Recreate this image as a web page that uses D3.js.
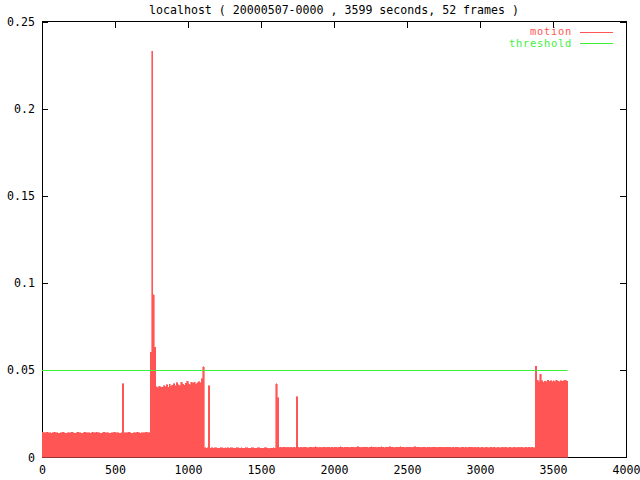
<!DOCTYPE html>
<html>
<head>
<meta charset="utf-8">
<script src="https://cdn.jsdelivr.net/npm/d3@7"></script>
<style>
  html, body { margin: 0; padding: 0; background: #ffffff; }
  svg { display: block; }
  text { font-family: "DejaVu Sans Mono", "Liberation Mono", monospace; font-size: 11.6px; }
</style>
</head>
<body>
<svg id="chart" width="640" height="480"></svg>
<script>
// ---- Data ----
const titleText = "localhost ( 20000507-0000 , 3599 seconds, 52 frames )";
const seriesNames = ["motion", "threshold"];
const binSeconds = 10;            // each value covers 10 seconds
const totalSeconds = 3599;
const thresholdValue = 0.05;
const xTickValues = [0, 500, 1000, 1500, 2000, 2500, 3000, 3500, 4000];
const xTickLabels = ["0", "500", "1000", "1500", "2000", "2500", "3000", "3500", "4000"];
const yTickValues = [0, 0.05, 0.1, 0.15, 0.2, 0.25];
const yTickLabels = ["0", "0.05", "0.1", "0.15", "0.2", "0.25"];

// motion level per 10-second bin, 0 .. 3600 s
const motionValues = [
  // 0 - 740 s
  .0142,.0140,.0139,.0141,.0138,.0140,.0137,.0139,.0141,.0138,
  .0139,.0137,.0140,.0138,.0141,.0139,.0136,.0138,.0140,.0139,
  .0141,.0138,.0137,.0139,.0142,.0138,.0140,.0137,.0139,.0141,
  .0138,.0140,.0139,.0137,.0141,.0138,.0139,.0142,.0138,.0140,
  .0137,.0139,.0141,.0138,.0140,.0139,.0137,.0140,.0138,.0141,
  .0139,.0138,.0140,.0137,.0139,.0420,.0138,.0140,.0139,.0141,
  .0138,.0137,.0139,.0140,.0138,.0141,.0139,.0137,.0140,.0138,
  .0139,.0141,.0138,.0140,
  // 740 - 1110 s
  .0600,.2330,.0930,.0630,
  .0402,.0398,.0405,.0401,.0399,.0410,.0403,.0415,.0400,.0418,.0405,.0412,
  .0420,.0408,.0425,.0415,.0410,.0430,.0418,.0412,.0422,.0435,
  .0420,.0416,.0428,.0422,.0430,.0418,.0425,.0432,.0426,.0450,
  .0517,
  // 1110 - 3380 s
  .0052,.0050,.0053,.0410,.0051,.0054,.0050,.0052,.0053,
  .0051,.0049,.0053,.0052,.0050,.0054,.0051,.0052,.0049,.0053,
  .0052,.0050,.0051,.0054,.0052,.0049,.0053,.0051,.0050,.0052,
  .0053,.0051,.0049,.0052,.0054,.0050,.0051,.0053,.0052,.0050,
  .0051,.0049,.0052,.0053,.0050,.0048,.0051,.0049,.0052,.0050,
  .0420,.0340,.0054,.0056,.0053,.0055,.0057,.0054,.0056,.0053,
  .0055,.0054,.0056,.0053,.0345,.0055,.0054,.0057,.0053,.0055,
  .0056,.0054,.0053,.0057,.0055,.0054,.0056,.0058,.0055,.0054,
  .0056,.0053,.0055,.0057,.0054,.0056,.0055,.0053,.0056,.0054,
  .0057,.0055,.0054,.0056,.0058,.0055,.0054,.0057,.0056,.0055,
  .0054,.0056,.0055,.0057,.0054,.0056,.0058,.0055,.0054,.0056,
  .0055,.0057,.0056,.0054,.0055,.0058,.0056,.0055,.0057,.0054,
  .0056,.0055,.0058,.0056,.0054,.0057,.0055,.0056,.0058,.0055,
  .0057,.0054,.0056,.0055,.0057,.0059,.0056,.0055,.0054,.0056,
  .0055,.0057,.0056,.0054,.0056,.0058,.0055,.0057,.0056,.0054,
  .0056,.0055,.0057,.0054,.0056,.0055,.0053,.0056,.0055,.0057,
  .0054,.0056,.0055,.0057,.0056,.0054,.0055,.0057,.0056,.0055,
  .0053,.0055,.0054,.0056,.0055,.0053,.0054,.0056,.0055,.0054,
  .0056,.0054,.0055,.0057,.0055,.0054,.0056,.0053,.0055,.0054,
  .0053,.0055,.0054,.0052,.0055,.0053,.0054,.0056,.0053,.0055,
  .0054,.0052,.0055,.0053,.0054,.0056,.0053,.0055,.0054,.0052,
  .0055,.0053,.0054,.0056,.0054,.0053,.0055,.0054,.0056,.0053,
  .0054,.0055,.0053,.0056,.0054,.0055,.0053,.0054,
  // 3380 - 3600 s
  .0520,.0440,.0432,.0475,.0438,.0430,.0436,.0432,.0440,.0434,
  .0438,.0431,.0437,.0433,.0440,.0435,.0432,.0439,.0434,.0437,
  .0441,.0436
];

// ---- Layout ----
const W = 640, H = 480;
const margin = { left: 42, right: 14, top: 21.5, bottom: 23 };
const x0 = margin.left, x1 = W - margin.right;
const y0 = H - margin.bottom, y1 = margin.top;

const motionColor = "#ff5555";
const thresholdColor = "#3cf03c";

const x = d3.scaleLinear().domain([0, 4000]).range([x0, x1]);
const y = d3.scaleLinear().domain([0, 0.25]).range([y0, y1]);

const svg = d3.select("#chart");
svg.append("rect").attr("width", W).attr("height", H).attr("fill", "#ffffff");

// Title
svg.append("text")
  .attr("x", (x0 + x1) / 2).attr("y", 14)
  .attr("text-anchor", "middle").attr("fill", "#000")
  .text(titleText);

// Axes (ticks inward, mirrored on all sides)
const tickLen = 6;
const axB = svg.append("g").attr("transform", `translate(0,${y0})`)
  .call(d3.axisBottom(x).tickValues(xTickValues).tickSizeInner(-tickLen).tickSizeOuter(0).tickPadding(tickLen + 3)
    .tickFormat((d, i) => xTickLabels[i]));
const axT = svg.append("g").attr("transform", `translate(0,${y1})`)
  .call(d3.axisTop(x).tickValues(xTickValues).tickSizeInner(-tickLen).tickSizeOuter(0).tickFormat(""));
const axL = svg.append("g").attr("transform", `translate(${x0},0)`)
  .call(d3.axisLeft(y).tickValues(yTickValues).tickSizeInner(-tickLen).tickSizeOuter(0).tickPadding(tickLen + 1)
    .tickFormat((d, i) => yTickLabels[i]));
const axR = svg.append("g").attr("transform", `translate(${x1},0)`)
  .call(d3.axisRight(y).tickValues(yTickValues).tickSizeInner(-tickLen).tickSizeOuter(0).tickFormat(""));

[axB, axT, axL, axR].forEach(g => {
  g.select(".domain").remove();
  g.selectAll("line").attr("stroke", "#000").attr("shape-rendering", "crispEdges");
  g.selectAll("text").attr("fill", "#000")
    .style("font-family", "'DejaVu Sans Mono', 'Liberation Mono', monospace")
    .style("font-size", "11.6px");
});
axL.selectAll("text").attr("dy", "0.35em");

// Frame
svg.append("rect")
  .attr("x", x0).attr("y", y1).attr("width", x1 - x0).attr("height", y0 - y1)
  .attr("fill", "none").attr("stroke", "#000").attr("stroke-width", 1)
  .attr("shape-rendering", "crispEdges");

// Motion series (filled step area)
const motionPts = motionValues.map((v, i) => ({ t: i * binSeconds, v }));
motionPts.push({ t: motionValues.length * binSeconds, v: motionValues[motionValues.length - 1] });
const area = d3.area()
  .curve(d3.curveStepAfter)
  .x(d => x(Math.min(d.t, totalSeconds + 1)))
  .y0(y(0))
  .y1(d => y(d.v));
svg.append("path")
  .datum(motionPts)
  .attr("d", area)
  .attr("fill", motionColor)
  .attr("stroke", motionColor)
  .attr("stroke-width", 0.6)
  .attr("shape-rendering", "crispEdges");

// Threshold line
svg.append("line")
  .attr("x1", x(0)).attr("x2", x(totalSeconds))
  .attr("y1", Math.round(y(thresholdValue)) + 0.5).attr("y2", Math.round(y(thresholdValue)) + 0.5)
  .attr("stroke", thresholdColor).attr("stroke-width", 1);

// Legend
const legend = [
  { name: seriesNames[0], color: motionColor, y: 31.5 },
  { name: seriesNames[1], color: thresholdColor, y: 43 }
];
legend.forEach(l => {
  svg.append("text")
    .attr("x", 572).attr("y", l.y).attr("dy", "0.35em")
    .attr("text-anchor", "end").attr("fill", l.color)
    .style("font-size", "10.4px")
    .style("letter-spacing", "0.75px")
    .text(l.name);
  svg.append("line")
    .attr("x1", 580).attr("x2", 613)
    .attr("y1", Math.round(l.y) + 0.5).attr("y2", Math.round(l.y) + 0.5)
    .attr("stroke", l.color).attr("stroke-width", 1);
});
</script>
</body>
</html>
